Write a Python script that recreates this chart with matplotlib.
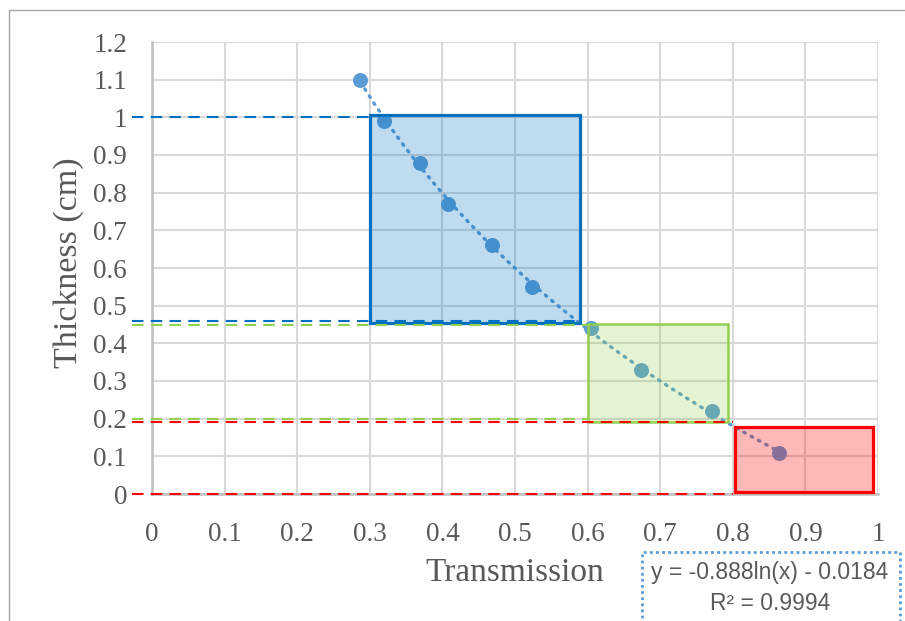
import numpy as np
import matplotlib
matplotlib.use("Agg")
import matplotlib.pyplot as plt
from matplotlib.patches import Rectangle

# ---- data ----
transmission = [0.287, 0.320, 0.369, 0.408, 0.469, 0.523, 0.604, 0.673, 0.772, 0.863]
thickness = [1.10, 0.99, 0.88, 0.77, 0.66, 0.55, 0.44, 0.33, 0.22, 0.11]

x_ticks = [0, 0.1, 0.2, 0.3, 0.4, 0.5, 0.6, 0.7, 0.8, 0.9, 1.0]
x_tick_labels = ["0", "0.1", "0.2", "0.3", "0.4", "0.5", "0.6", "0.7", "0.8", "0.9", "1"]
y_ticks = [0, 0.1, 0.2, 0.3, 0.4, 0.5, 0.6, 0.7, 0.8, 0.9, 1.0, 1.1, 1.2]
y_tick_labels = ["0", "0.1", "0.2", "0.3", "0.4", "0.5", "0.6", "0.7", "0.8", "0.9", "1", "1.1", "1.2"]

# regions: (x0, x1, y0, y1)
blue_region = (0.30, 0.59, 0.455, 1.005)
green_region = (0.60, 0.794, 0.191, 0.451)
red_region = (0.803, 0.993, 0.004, 0.177)

# dashed guide lines: (y, x_end)
blue_guides = [(1.0, 0.30), (0.46, 0.59)]
green_guides = [(0.45, 0.60), (0.20, 0.60)]
red_guides = [(0.19, 0.80), (0.0, 0.80)]

equation_text = "y = -0.888ln(x) - 0.0184"
r2_text = "R\u00b2 = 0.9994"

W, H = 905, 621
fig = plt.figure(figsize=(W / 100, H / 100), dpi=100)
ax = fig.add_axes([152 / W, 1 - 494 / H, 726 / W, 452 / H])
ax.set_xlim(0, 1)
ax.set_ylim(0, 1.2)

grey_txt = "#595959"
ax.set_xticks(x_ticks)
ax.set_xticklabels(x_tick_labels)
ax.set_yticks(y_ticks)
ax.set_yticklabels(y_tick_labels)
ax.tick_params(length=0, labelsize=19.5, labelcolor=grey_txt)
ax.tick_params(axis="y", pad=18)
ax.tick_params(axis="x", pad=20.5)
for lab in ax.get_xticklabels() + ax.get_yticklabels():
    lab.set_family("Liberation Serif")

ax.grid(True, color="#D9D9D9", lw=1.5, zorder=0)
ax.set_axisbelow(True)
for s in ["top", "right"]:
    ax.spines[s].set_visible(False)
for s in ["left", "bottom"]:
    ax.spines[s].set_color("#BFBFBF")
    ax.spines[s].set_linewidth(1.8)

# trendline (log fit of the data)
coef = np.polyfit(np.log(transmission), thickness, 1)
xt = np.linspace(min(transmission), max(transmission), 200)
ax.plot(xt, coef[0] * np.log(xt) + coef[1], color="#5B9BD5", lw=2.4,
        linestyle=(0, (0.5, 2.0)), dash_capstyle="round", zorder=2)
ax.plot(transmission, thickness, "o", color="#5B9BD5", markersize=10.8,
        markeredgewidth=0, zorder=2)

def region(r, color, alpha, lw):
    x0, x1, y0, y1 = r
    rgba = matplotlib.colors.to_rgba(color, alpha)
    ax.add_patch(Rectangle((x0, y0), x1 - x0, y1 - y0, facecolor=rgba,
                           edgecolor=color, lw=lw, zorder=3, clip_on=False))

def guides(gl, color):
    for y, xe in gl:
        ax.plot([-0.028, xe], [y, y], color=color, lw=1.5,
                linestyle=(0, (5.5, 3.5)), zorder=4, clip_on=False)

guides(green_guides, "#92D050")
guides(red_guides, "#FF0000")
guides(blue_guides, "#0070C0")
region(blue_region, "#0070C0", 0.25, 2.3)
region(green_region, "#92D050", 0.25, 1.8)
region(red_region, "#FF0000", 0.28, 2.3)

fig.text(515 / W, 1 - 573 / H, "Transmission", family="Liberation Serif",
         fontsize=24, color=grey_txt, ha="center", va="center")
fig.text(69 / W, 1 - 263 / H, "Thickness (cm)", family="Liberation Serif",
         fontsize=24.5, color=grey_txt, ha="center", va="center", rotation=90)

fig.text(770 / W, 1 - 573 / H, equation_text, family="Liberation Sans",
         fontsize=16.5, color=grey_txt, ha="center", va="center")
fig.text(770 / W, 1 - 604 / H, r2_text, family="Liberation Sans",
         fontsize=16.5, color=grey_txt, ha="center", va="center")

box = Rectangle((642 / W, -0.05), (900 - 642) / W, (1 - 552 / H) + 0.05,
                transform=fig.transFigure, fill=False, edgecolor="#5B9BD5",
                lw=2, linestyle=(0, (1, 1.2)))
fig.add_artist(box)
frame = Rectangle((8.5 / W, -0.1), 1.2, (1 - 9.5 / H) + 0.1,
                  transform=fig.transFigure, fill=False, edgecolor="#A6A6A6", lw=1)
fig.add_artist(frame)

fig.savefig("out.png", dpi=100)
